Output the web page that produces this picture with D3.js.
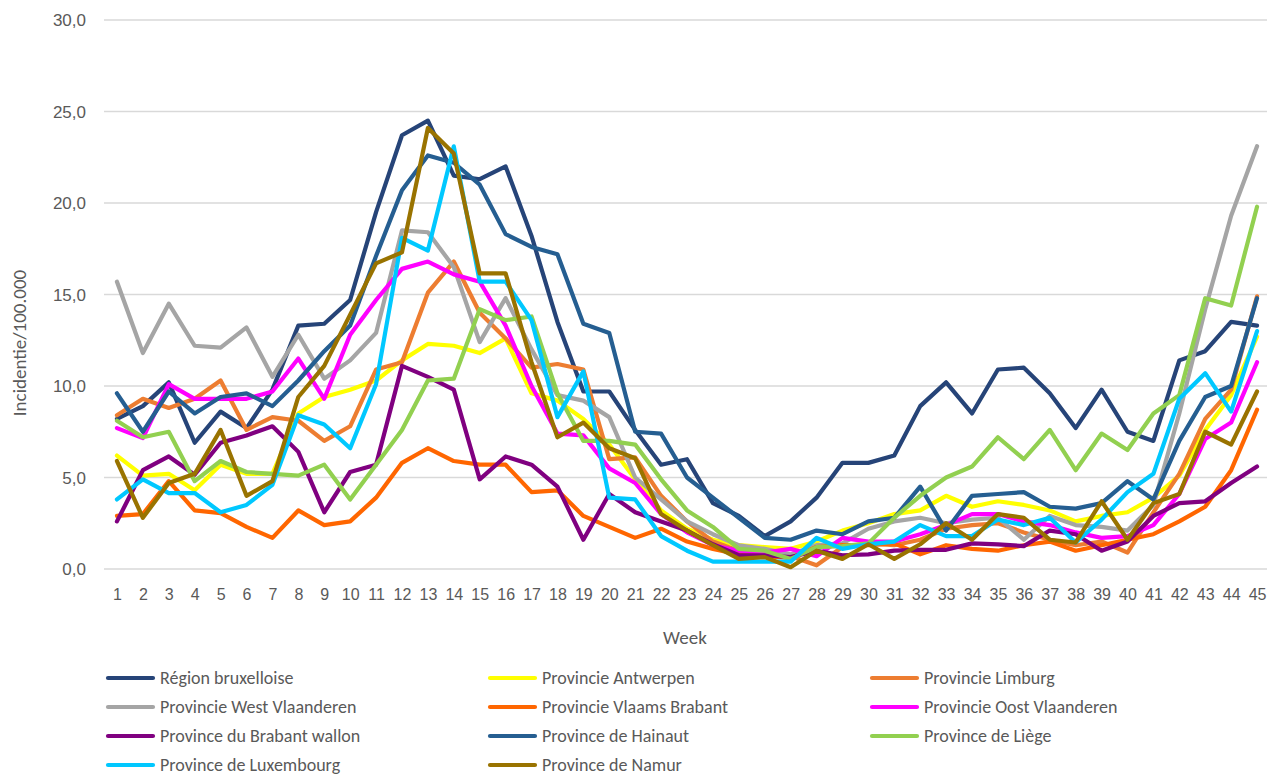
<!DOCTYPE html>
<html>
<head>
<meta charset="utf-8">
<script src="https://cdn.jsdelivr.net/npm/d3@7"></script>
<style>
  body { margin: 0; background: #fff; }
  svg { font-family: "Liberation Sans Narrow", Carlito, "Open Sans", sans-serif; }
</style>
</head>
<body>
<script>
// weeks
const weeks = d3.range(1, 46);
const yTicks = [0, 5, 10, 15, 20, 25, 30];

const seriesNames = [
    "Région bruxelloise", "Provincie Antwerpen", "Provincie Limburg",
    "Provincie West Vlaanderen", "Provincie Vlaams Brabant", "Provincie Oost Vlaanderen",
    "Province du Brabant wallon", "Province de Hainaut", "Province de Liège",
    "Province de Luxembourg", "Province de Namur"
];
const seriesColors = ["#264478", "#FFFF00", "#ED7D31", "#A5A5A5", "#FF6600", "#FF00FF",
    "#800080", "#255E91", "#92D050", "#00C8FF", "#997300"];

const bruxelles = [8.2, 8.9, 10.2, 6.9, 8.6, 7.7, 9.8, 13.3, 13.4, 14.7, 19.5, 23.7, 24.5, 21.5, 21.3, 22.0, 18.2, 13.5, 9.7, 9.7,
    7.6, 5.7, 6.0, 3.6, 2.9, 1.8, 2.6, 3.9, 5.8, 5.8, 6.2, 8.9, 10.2, 8.5, 10.9, 11.0, 9.6, 7.7, 9.8, 7.5,
    7.0, 11.4, 11.9, 13.5, 13.3];
const antwerpen = [6.2, 5.1, 5.2, 4.3, 5.7, 5.2, 5.2, 8.5, 9.4, 9.8, 10.3, 11.4, 12.3, 12.2, 11.8, 12.6, 9.6, 9.2, 8.2, 6.8,
    4.9, 3.2, 2.2, 1.6, 1.3, 1.2, 1.1, 1.5, 2.1, 2.5, 3.0, 3.2, 4.0, 3.4, 3.7, 3.5, 3.2, 2.6, 2.9, 3.1,
    3.9, 5.1, 7.6, 9.5, 12.7];
const limburg = [8.4, 9.3, 8.8, 9.3, 10.3, 7.6, 8.3, 8.1, 7.0, 7.8, 10.9, 11.3, 15.1, 16.8, 14.0, 12.6, 11.0, 11.2, 10.9, 6.0,
    6.1, 4.0, 2.6, 1.5, 1.0, 0.9, 0.7, 0.2, 1.2, 1.4, 1.3, 1.6, 2.2, 2.4, 2.5, 2.0, 1.6, 1.3, 1.5, 0.9,
    3.1, 5.2, 8.2, 9.8, 14.9];
const westVlaanderen = [15.7, 11.8, 14.5, 12.2, 12.1, 13.2, 10.5, 12.8, 10.4, 11.4, 12.9, 18.5, 18.4, 16.5, 12.4, 14.8, 12.0, 9.5, 9.2, 8.3,
    5.0, 3.8, 2.6, 1.9, 1.3, 1.1, 0.8, 1.3, 1.4, 2.2, 2.6, 2.8, 2.5, 2.7, 2.8, 1.6, 2.9, 2.4, 2.3, 2.1,
    3.5, 8.5, 14.2, 19.3, 23.1];
const vlaamsBrabant = [2.9, 3.0, 4.8, 3.2, 3.05, 2.3, 1.7, 3.2, 2.4, 2.6, 3.9, 5.8, 6.6, 5.9, 5.7, 5.7, 4.2, 4.3, 2.9, 2.3,
    1.7, 2.2, 1.5, 1.1, 0.8, 0.7, 0.6, 1.2, 1.3, 1.3, 1.4, 0.8, 1.3, 1.1, 1.0, 1.3, 1.5, 1.0, 1.3, 1.6,
    1.9, 2.6, 3.4, 5.4, 8.7];
const oostVlaanderen = [7.7, 7.15, 10.1, 9.3, 9.3, 9.3, 9.7, 11.5, 9.3, 12.8, 14.7, 16.4, 16.8, 16.1, 15.7, 13.3, 10.0, 7.4, 7.3, 5.5,
    4.7, 3.0, 2.0, 1.3, 1.0, 0.9, 1.1, 0.7, 1.7, 1.5, 1.5, 1.9, 2.4, 3.0, 3.0, 2.6, 2.4, 2.0, 1.7, 1.8,
    2.4, 4.1, 7.1, 8.0, 11.3];
const brabantWallon = [2.6, 5.4, 6.15, 5.15, 6.9, 7.3, 7.8, 6.4, 3.1, 5.3, 5.7, 11.1, 10.5, 9.8, 4.9, 6.15, 5.7, 4.5, 1.6, 4.1,
    3.1, 2.6, 2.1, 1.35, 0.75, 0.75, 0.65, 1.0, 0.75, 0.8, 1.0, 1.05, 1.05, 1.4, 1.35, 1.25, 2.1, 1.9, 1.0, 1.5,
    2.9, 3.6, 3.7, 4.7, 5.6];
const hainaut = [9.6, 7.5, 9.7, 8.5, 9.4, 9.6, 8.9, 10.3, 11.9, 13.3, 17.1, 20.7, 22.6, 22.2, 21.0, 18.3, 17.6, 17.2, 13.4, 12.9,
    7.5, 7.4, 5.0, 3.9, 2.8, 1.7, 1.6, 2.1, 1.9, 2.6, 2.8, 4.5, 2.1, 4.0, 4.1, 4.2, 3.4, 3.3, 3.6, 4.8,
    3.8, 7.0, 9.4, 10.0, 14.8];
const liege = [8.1, 7.2, 7.5, 4.8, 5.9, 5.3, 5.2, 5.1, 5.7, 3.8, 5.7, 7.6, 10.3, 10.4, 14.2, 13.6, 13.8, 9.6, 7.0, 7.0,
    6.8, 4.9, 3.2, 2.3, 1.1, 1.0, 0.55, 1.2, 1.25, 1.4, 2.8, 4.0, 5.0, 5.6, 7.2, 6.0, 7.6, 5.4, 7.4, 6.5,
    8.5, 9.5, 14.8, 14.4, 19.8];
const luxembourg = [3.8, 4.9, 4.15, 4.15, 3.1, 3.5, 4.6, 8.4, 7.9, 6.6, 10.1, 18.1, 17.4, 23.1, 15.7, 15.7, 13.6, 8.3, 10.8, 3.9,
    3.8, 1.8, 1.0, 0.4, 0.4, 0.4, 0.4, 1.7, 1.1, 1.35, 1.5, 2.4, 1.8, 1.8, 2.7, 2.4, 2.8, 1.45, 2.7, 4.2,
    5.2, 9.3, 10.7, 8.6, 13.0];
const namur = [5.9, 2.8, 4.7, 5.2, 7.6, 4.0, 4.8, 9.4, 11.1, 13.9, 16.7, 17.3, 24.1, 22.7, 16.15, 16.15, 11.3, 7.2, 8.0, 6.6,
    6.05, 3.0, 2.1, 1.3, 0.55, 0.65, 0.1, 1.0, 0.55, 1.35, 0.55, 1.35, 2.5, 1.6, 3.0, 2.8, 1.6, 1.45, 3.7, 1.6,
    3.6, 4.1, 7.5, 6.8, 9.7];

const seriesValues = [bruxelles, antwerpen, limburg, westVlaanderen, vlaamsBrabant, oostVlaanderen,
    brabantWallon, hainaut, liege, luxembourg, namur];

const width = 1267, height = 776;
const textColor = "#595959";

const series = seriesNames.map((name, k) => ({
    name: name,
    color: seriesColors[k],
    values: seriesValues[k].map((v, i) => ({ week: weeks[i], value: v }))
}));

const svg = d3.select("body").append("svg")
    .attr("width", width)
    .attr("height", height);

const x = d3.scalePoint().domain(weeks).range([104, 1270]).padding(0.5);
const y = d3.scaleLinear().domain([0, 30]).range([569, 20]);

// 网格线
svg.append("g").selectAll("line").data(yTicks).join("line")
    .attr("x1", 104).attr("x2", 1270)
    .attr("y1", d => y(d)).attr("y2", d => y(d))
    .attr("stroke", "#D9D9D9").attr("stroke-width", 1.3);

// y轴
const gy = svg.append("g").attr("transform", "translate(104,0)")
    .call(d3.axisLeft(y).tickValues(yTicks).tickSize(0).tickPadding(18)
        .tickFormat(d => d3.format(".1f")(d).replace(".", ",")));
gy.select(".domain").remove();
gy.selectAll("text").attr("fill", textColor).attr("font-size", 17).attr("dy", "0.35em");

// x轴
const gx = svg.append("g").attr("transform", "translate(0,569)")
    .call(d3.axisBottom(x).tickSize(0).tickPadding(20));
gx.select(".domain").remove();
gx.selectAll("text").attr("fill", textColor).attr("font-size", 16);

// 轴标题
svg.append("text").attr("x", 685).attr("y", 644)
    .attr("text-anchor", "middle").attr("fill", textColor).attr("font-size", 19).text("Week");
svg.append("text").attr("transform", "translate(26,343) rotate(-90)")
    .attr("text-anchor", "middle").attr("fill", textColor).attr("font-size", 19).text("Incidentie/100.000");

// 折线
const line = d3.line()
    .x(d => x(d.week))
    .y(d => y(d.value));

svg.append("g").selectAll("path").data(series).join("path")
    .attr("fill", "none")
    .attr("stroke", d => d.color)
    .attr("stroke-width", 4.2)
    .attr("stroke-linejoin", "round")
    .attr("stroke-linecap", "round")
    .attr("d", d => line(d.values));

// 图例
const legendCols = [108, 490, 872];
const legendRows = [678, 707, 736, 765];
const item = svg.append("g").selectAll("g").data(series).join("g")
    .attr("transform", (d, i) => `translate(${legendCols[i % 3]},${legendRows[Math.floor(i / 3)]})`);
item.append("line").attr("x1", 0).attr("x2", 45)
    .attr("stroke", d => d.color).attr("stroke-width", 4.2).attr("stroke-linecap", "round");
item.append("text").attr("x", 52).attr("dy", "0.35em")
    .attr("fill", textColor).attr("font-size", 18).text(d => d.name);
</script>
</body>
</html>
